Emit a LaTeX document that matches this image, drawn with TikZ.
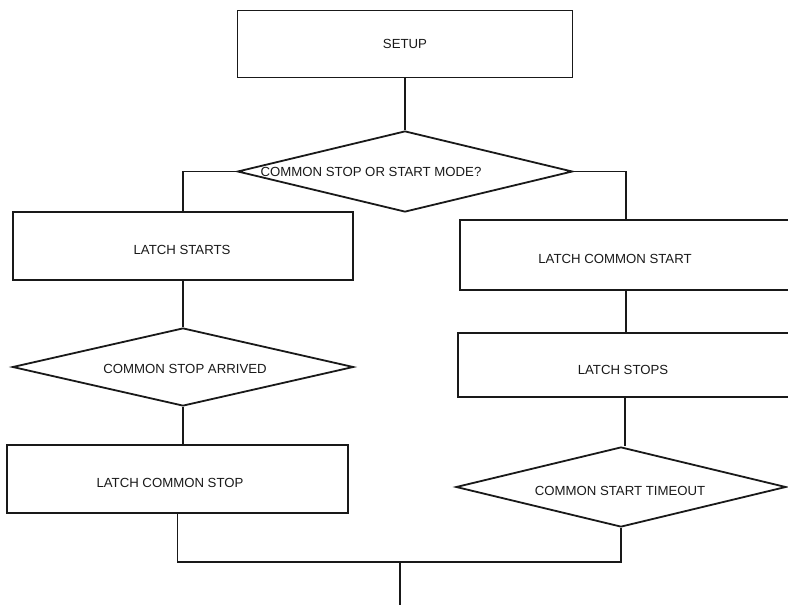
\documentclass[tikz,border=0pt]{standalone}
\usepackage{fontspec}
\setmainfont{Liberation Sans}
\usetikzlibrary{shapes.geometric}
\begin{document}
\begin{tikzpicture}[x=1pt,y=-1pt,
  line width=1.8pt, draw=black!90,
  stepbox/.style={draw, rectangle, inner sep=0pt},
  dia/.style={draw, diamond, inner sep=0pt},
  lbl/.style={font=\fontsize{13.2}{15}\selectfont, text=black!90}]
\useasboundingbox (0,0) rectangle (788,605);
% boxes
\node[stepbox, minimum width=335pt, minimum height=67pt] (setup) at (405,44) {};
\node[lbl] at (setup) {SETUP};
\node[dia, minimum width=335pt, minimum height=81pt] (d1) at (405,171.5) {};
\node[lbl] at (371,172) {COMMON STOP OR START MODE?};
\node[stepbox, minimum width=340pt, minimum height=68pt] (ls) at (183,246) {};
\node[lbl] at (182,250) {LATCH STARTS};
\node[dia, minimum width=341pt, minimum height=78pt] (d2) at (183,367) {};
\node[lbl] at (185,369) {COMMON STOP ARRIVED};
\node[stepbox, minimum width=341pt, minimum height=68pt] (lcs) at (177.5,479) {};
\node[lbl] at (170,483) {LATCH COMMON STOP};
\node[stepbox, minimum width=332pt, minimum height=70pt] (lcst) at (626,255) {};
\node[lbl] at (615,259) {LATCH COMMON START};
\node[stepbox, minimum width=334pt, minimum height=64pt] (lstops) at (625,365) {};
\node[lbl] at (623,370) {LATCH STOPS};
\node[dia, minimum width=330pt, minimum height=80pt] (d3) at (621,487) {};
\node[lbl] at (620,491) {COMMON START TIMEOUT};
\coordinate (j) at (400,562);
\coordinate (e) at (400,605);
% connectors
\draw (setup.south) -- (d1.north);
\draw (d1.west) -| (ls.north);
\draw (d1.east) -| (lcst.north);
\draw (ls.south) -- (d2.north);
\draw (d2.south) -- (d2.south |- lcs.north);
\draw (lcst.south) -- (lcst.south |- lstops.north);
\draw (lstops.south) -- (lstops.south |- d3.north);
\draw (lcs.south) |- (j) -| (d3.south);
\draw (j) -- (e);
\end{tikzpicture}
\end{document}
